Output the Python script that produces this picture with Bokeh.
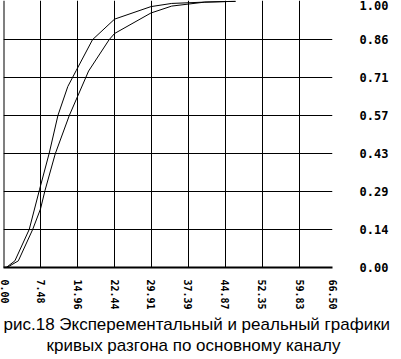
from bokeh.plotting import figure
from bokeh.models import (Range1d, FixedTicker, NumeralTickFormatter, Span, Title)
from bokeh.embed import file_html
from bokeh.resources import INLINE

# ---- data ----
x_ticks = [0.0, 7.48, 14.96, 22.44, 29.91, 37.39, 44.87, 52.35, 59.83, 66.50]
y_ticks = [0.0, 1/7, 2/7, 3/7, 4/7, 5/7, 6/7, 1.0]

# experimental (faster) curve
t_a = [0.0, 0.7, 2.3, 5.2, 7.3, 9.25, 11.0, 13.0, 14.7, 18.0, 22.45, 29.8, 34.0, 40.7, 46.9]
y_a = [0.0, 0.002, 0.025, 0.143, 0.294, 0.430, 0.571, 0.680, 0.740, 0.856, 0.933, 0.980, 0.992, 0.997, 1.0]

# real (slower) curve
t_b = [0.0, 0.7, 3.0, 5.9, 7.48, 8.4, 10.46, 13.3, 14.96, 17.2, 21.36, 22.45, 29.8, 34.0, 40.7, 46.9]
y_b = [0.0, 0.0, 0.025, 0.143, 0.220, 0.290, 0.427, 0.571, 0.642, 0.738, 0.856, 0.879, 0.956, 0.982, 0.997, 1.0]

caption_1 = "рис.18 Эксперементальный и реальный графики"
caption_2 = "кривых разгона по основному каналу"

p = figure(width=392, height=355, output_backend="svg", toolbar_location=None,
           x_range=Range1d(0, 66.5), y_range=Range1d(0, 1.003),
           min_border_left=3, min_border_right=60, min_border_top=0,
           min_border_bottom=88, x_axis_location="below", y_axis_location="right",
           background_fill_color="white", border_fill_color="white")
p.outline_line_color = None

# x axis
xa = p.xaxis[0]
xa.ticker = FixedTicker(ticks=x_ticks)
xa.formatter = NumeralTickFormatter(format="0.00")
xa.major_label_orientation = "vertical"
xa.axis_line_width = 2
xa.axis_line_color = "black"
xa.major_tick_line_color = None
xa.minor_tick_line_color = None
xa.major_tick_out = 0
xa.major_tick_in = 0
xa.minor_tick_out = 0
xa.minor_tick_in = 0
xa.axis_label_standoff = 0
xa.major_label_text_font = "DejaVu Sans Mono"
xa.major_label_text_font_style = "bold"
xa.major_label_text_font_size = "10px"
xa.major_label_text_color = "black"
xa.major_label_standoff = 12

# y axis (right)
ya = p.yaxis[0]
ya.ticker = FixedTicker(ticks=y_ticks)
ya.formatter = NumeralTickFormatter(format="0.00")
ya.axis_line_color = None
ya.major_tick_line_color = None
ya.minor_tick_line_color = None
ya.major_tick_out = 0
ya.major_tick_in = 0
ya.minor_tick_out = 0
ya.minor_tick_in = 0
ya.major_label_text_font = "DejaVu Sans Mono"
ya.major_label_text_font_style = "bold"
ya.major_label_text_font_size = "12px"
ya.major_label_text_color = "black"
ya.major_label_standoff = 27

# grids
p.xgrid.ticker = FixedTicker(ticks=x_ticks)
p.ygrid.ticker = FixedTicker(ticks=y_ticks[1:-1])
for g in (p.xgrid[0], p.ygrid[0]):
    g.grid_line_color = "black"
    g.grid_line_width = 1
    g.grid_line_alpha = 1.0

p.add_layout(Span(location=0, dimension="height", line_color="black", line_width=2))

p.line(t_a, y_a, line_color="black", line_width=1)
p.line(t_b, y_b, line_color="black", line_width=1)

p.add_layout(Title(text=caption_1, align="left", offset=0, standoff=0,
                   text_font="Liberation Sans", text_font_size="17px",
                   text_font_style="normal", text_color="black"), "below")
p.add_layout(Title(text=caption_2, align="left", offset=43, standoff=0,
                   text_line_height=1.0,
                   text_font="Liberation Sans", text_font_size="17px",
                   text_font_style="normal", text_color="black"), "below")

open("out.html", "w").write(file_html(p, INLINE))
